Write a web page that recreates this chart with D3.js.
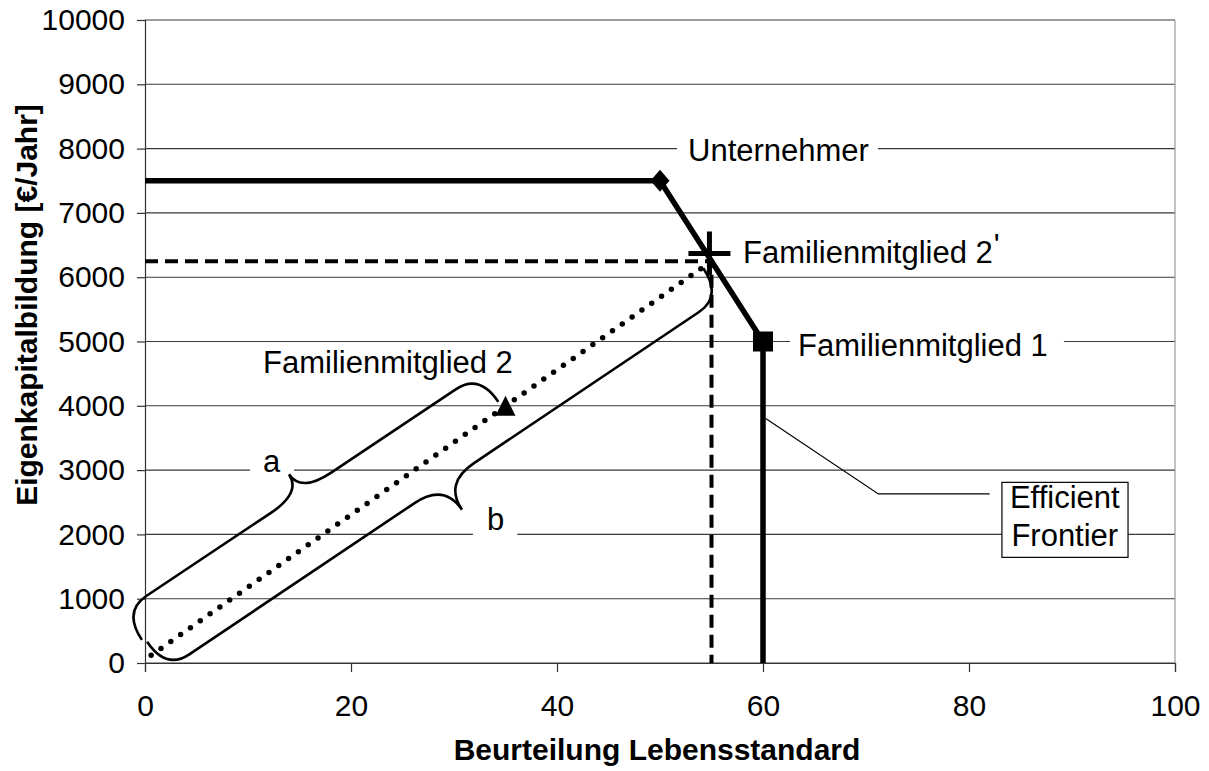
<!DOCTYPE html>
<html>
<head>
<meta charset="utf-8">
<script src="https://cdn.jsdelivr.net/npm/d3@7"></script>
<style>
    body { margin: 0; background: #fff; }
    text { font-family: "Liberation Sans", Arial, sans-serif; fill: #000; }
</style>
</head>
<body>
<div id="graph"></div>
<script>
"use strict";

// axis ticks
const xTicks = [0, 20, 40, 60, 80, 100];
const yTicks = [0, 1000, 2000, 3000, 4000, 5000, 6000, 7000, 8000, 9000, 10000];

// efficient frontier (solid thick line)
const frontierX = [0, 50, 60, 60];
const frontierY = [7500, 7500, 5000, 0];

// path of Familienmitglied 2 towards the frontier (dotted)
const pathX = [0.6, 55];
const pathY = [120, 6250];

// projection of the point on the frontier (dashed)
const guideX = [0, 55, 55];
const guideY = [6250, 6250, 0];

// single points
const pointNames = ["Unternehmer", "Familienmitglied 1", "Familienmitglied 2", "Familienmitglied 2'"];
const pointX = [50, 60, 35, 54.8];
const pointY = [7500, 5000, 4000, 6370];
const pointShape = ["diamond", "square", "triangle", "cross"];

// braces a and b (start / end in data units)
const braceNames = ["a", "b"];
const braceFrom = [[-0.3, 360], [0.2, 330]];
const braceTo = [[34.3, 4060], [54.2, 6140]];

(function() {
    const svgSize = { width: 1209, height: 771 };
    const margin = { left: 145, right: 34, top: 20, bottom: 108 };
    const plotW = svgSize.width - margin.left - margin.right;
    const plotH = svgSize.height - margin.top - margin.bottom;

    window.addEventListener("load", init);

    function init() {
        let svg = d3.select("#graph")
                    .append("svg")
                        .attr("width", svgSize.width)
                        .attr("height", svgSize.height);
        let g = svg.append("g")
                    .attr("transform", "translate(" + margin.left + "," + margin.top + ")");

        let x = d3.scaleLinear().domain([0, 100]).range([0, plotW]);
        let y = d3.scaleLinear().domain([0, 10000]).range([plotH, 0]);

        // grid
        g.append("g").selectAll("line")
            .data(yTicks)
            .enter()
            .append("line")
                .attr("x1", 0)
                .attr("x2", plotW)
                .attr("y1", d => y(d))
                .attr("y2", d => y(d))
                .attr("stroke", "#3a3a3a")
                .attr("stroke-width", 1.1);
        g.append("line")
            .attr("x1", plotW).attr("x2", plotW)
            .attr("y1", 0).attr("y2", plotH)
            .attr("stroke", "#999").attr("stroke-width", 1.2);

        // axes
        let yAxis = g.append("g")
            .call(d3.axisLeft(y).tickValues(yTicks).tickSize(8).tickPadding(12).tickFormat(d3.format("d")));
        let xAxis = g.append("g")
            .attr("transform", "translate(0," + plotH + ")")
            .call(d3.axisBottom(x).tickValues(xTicks).tickSize(9).tickPadding(23).tickFormat(d3.format("d")));
        [yAxis, xAxis].forEach(a => {
            a.select(".domain").attr("stroke", "#333").attr("stroke-width", 1.2);
            a.selectAll(".tick line").attr("stroke", "#333").attr("stroke-width", 1.2);
            a.selectAll(".tick text").attr("font-size", 30).attr("fill", "#000")
                .style("font-family", "'Liberation Sans', Arial, sans-serif");
        });

        // axis titles
        svg.append("text")
            .attr("x", margin.left + plotW / 2 - 3)
            .attr("y", 760)
            .attr("text-anchor", "middle")
            .attr("font-size", 30)
            .attr("font-weight", "bold")
            .text("Beurteilung Lebensstandard");
        svg.append("text")
            .attr("transform", "translate(37,305) rotate(-90)")
            .attr("text-anchor", "middle")
            .attr("font-size", 30)
            .attr("font-weight", "bold")
            .text("Eigenkapitalbildung [€/Jahr]");

        // labels with white boxes (they cut the grid lines)
        const labels = [
            { text: "Unternehmer", x: 52.72, y: 7807, padL: 11, padR: 9 },
            { text: "Familienmitglied 2", prime: true, x: 58.06, y: 6221, padL: 7, padR: 10 },
            { text: "Familienmitglied 1", x: 63.4, y: 4774, padL: 8, padR: 16 },
            { text: "Familienmitglied 2", x: 11.46, y: 4510, padL: 7, padR: 4 },
            { text: braceNames[0], x: 11.46, y: 2970, padL: 13, padR: 13 },
            { text: braceNames[1], x: 33.2, y: 2068, padL: 14, padR: 13 }
        ];
        let boxLayer = g.append("g");
        let markLayer = g.append("g");
        let textLayer = g.append("g");

        labels.forEach(l => {
            let t = textLayer.append("text")
                .attr("x", x(l.x))
                .attr("y", y(l.y))
                .attr("font-size", 31)
                .text(l.text);
            if (l.prime) {
                t.append("tspan").attr("dx", 1).attr("dy", -7).text("'");
            }
            let bb = t.node().getBBox();
            boxLayer.append("rect")
                .attr("x", bb.x - l.padL)
                .attr("y", y(l.y) - 30)
                .attr("width", bb.width + l.padL + l.padR)
                .attr("height", 40)
                .attr("fill", "#fff");
        });

        // efficient frontier note
        let leader = [[60.3, 3800], [71.2, 2630], [82, 2630]];
        markLayer.append("path")
            .attr("d", d3.line().x(d => x(d[0])).y(d => y(d[1]))(leader))
            .attr("fill", "none")
            .attr("stroke", "#000")
            .attr("stroke-width", 1.2);
        let note = textLayer.append("text")
            .attr("x", x(89.3))
            .attr("y", y(2405))
            .attr("text-anchor", "middle")
            .attr("font-size", 31);
        note.append("tspan").attr("x", x(89.3)).attr("dy", 0).text("Efficient");
        note.append("tspan").attr("x", x(89.3)).attr("dy", 38).text("Frontier");
        let nb = note.node().getBBox();
        boxLayer.append("rect")
            .attr("x", nb.x - 8)
            .attr("y", nb.y + 2)
            .attr("width", nb.width + 16)
            .attr("height", nb.height + 2)
            .attr("fill", "#fff")
            .attr("stroke", "#000")
            .attr("stroke-width", 1.2);

        let line = d3.line().x(d => x(d[0])).y(d => y(d[1]));

        // dashed guide
        markLayer.append("path")
            .attr("d", line(guideX.map((v, i) => [v, guideY[i]])))
            .attr("fill", "none")
            .attr("stroke", "#000")
            .attr("stroke-width", 4)
            .attr("stroke-dasharray", "13 7");

        // dotted path
        markLayer.append("path")
            .attr("d", line(pathX.map((v, i) => [v, pathY[i]])))
            .attr("fill", "none")
            .attr("stroke", "#000")
            .attr("stroke-width", 5.5)
            .attr("stroke-linecap", "round")
            .attr("stroke-dasharray", "0 12");

        // frontier
        markLayer.append("path")
            .attr("d", line(frontierX.map((v, i) => [v, frontierY[i]])))
            .attr("fill", "none")
            .attr("stroke", "#000")
            .attr("stroke-width", 5.5)
            .attr("stroke-linejoin", "miter");

        // braces
        const braceSide = [-1, 1];
        const braceTip = [56, 66];
        braceNames.forEach((nm, i) => {
            let p0 = [x(braceFrom[i][0]), y(braceFrom[i][1])];
            let p1 = [x(braceTo[i][0]), y(braceTo[i][1])];
            markLayer.append("path")
                .attr("d", bracePath(p0, p1, braceSide[i], 34, braceTip[i], 28, 36))
                .attr("fill", "none")
                .attr("stroke", "#000")
                .attr("stroke-width", 2.6);
        });

        // point markers
        const shapes = {
            diamond: "M0,-11L9.5,0L0,11L-9.5,0Z",
            square: "M-10,-10H10V10H-10Z",
            triangle: "M0,-10L10,10H-10Z",
            cross: "M-21,0H21M0,-22V22"
        };
        pointNames.forEach((nm, i) => {
            let p = markLayer.append("path")
                .attr("transform", "translate(" + x(pointX[i]) + "," + y(pointY[i]) + ")")
                .attr("d", shapes[pointShape[i]]);
            if (pointShape[i] === "cross") {
                p.attr("fill", "none").attr("stroke", "#000").attr("stroke-width", 5);
            } else {
                p.attr("fill", "#000");
            }
        });
    }

    /* --- HELPER FUNCTIONS --- */

    /**
     * Curly brace between two pixel points.
     * side picks the side of the tip, w arm offset, h tip offset,
     * r hook length at the ends, rt half width of the tip curve.
     */
    function bracePath(p0, p1, side, w, h, r, rt) {
        let dx = p1[0] - p0[0];
        let dy = p1[1] - p0[1];
        let len = Math.hypot(dx, dy);
        let u = [dx / len, dy / len];
        let n = [-u[1] * side, u[0] * side];
        let m = [(p0[0] + p1[0]) / 2, (p0[1] + p1[1]) / 2];
        let pt = (b, a, c) => [b[0] + a * u[0] + c * n[0], b[1] + a * u[1] + c * n[1]];
        let f = p => p[0].toFixed(1) + "," + p[1].toFixed(1);
        return "M" + f(p0) +
            "Q" + f(pt(p0, 0, w)) + " " + f(pt(p0, r, w)) +
            "L" + f(pt(m, -rt, w)) +
            "Q" + f(pt(m, 0, w)) + " " + f(pt(m, 0, h)) +
            "Q" + f(pt(m, 0, w)) + " " + f(pt(m, rt, w)) +
            "L" + f(pt(p1, -r, w)) +
            "Q" + f(pt(p1, 0, w)) + " " + f(p1);
    }

    function id(name) {
        return document.getElementById(name);
    }

})();
</script>
</body>
</html>
